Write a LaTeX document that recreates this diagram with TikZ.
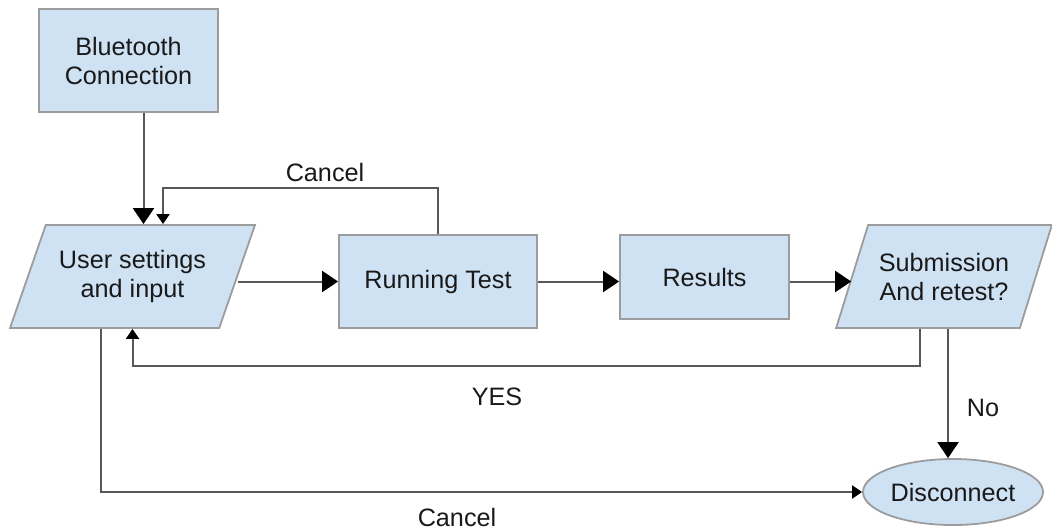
\documentclass[tikz,border=0pt]{standalone}
\usepackage{fontspec}
\setmainfont{Liberation Sans}
\usepackage{xcolor}
\usetikzlibrary{shapes.geometric,arrows.meta,positioning,calc}

\definecolor{boxfill}{HTML}{CFE2F3}
\definecolor{boxline}{HTML}{9C9C9C}
\definecolor{wire}{HTML}{585858}

\begin{document}
\begin{tikzpicture}[
    x=0.5pt, y=-0.5pt,
    font=\fontsize{12.6}{14.5}\selectfont,
    procbox/.style={rectangle, draw=boxline, fill=boxfill, line width=0.9pt, text=black!90, align=center, inner sep=0pt},
    iobox/.style={trapezium, trapezium left angle=60, trapezium right angle=120, trapezium stretches=true, draw=boxline, fill=boxfill, line width=0.9pt, text=black!90, align=center, inner sep=0pt},
    endnode/.style={ellipse, draw=boxline, fill=boxfill, line width=0.9pt, text=black!90, inner sep=0pt},
    arrow/.style={-{Triangle[length=8pt,width=10.5pt,black]}, draw=wire, line width=1pt},
    smallarrow/.style={-{Triangle[length=5pt,width=6.5pt,black]}, draw=wire, line width=1pt},
    lbl/.style={text=black!90, inner sep=0pt}
]
    \useasboundingbox (0,0) rectangle (1052,531);

    \node (bt) [procbox, minimum width=89.5pt, minimum height=51.5pt] at (128.5,60.5) {Bluetooth\\Connection};
    \node (user) [iobox, minimum width=122.5pt, minimum height=51.5pt] at (132.5,276.5) {User settings\\and input};
    \node (rt) [procbox, minimum width=99pt, minimum height=46.5pt] at (438,281.5) {Running Test};
    \node (res) [procbox, minimum width=84.5pt, minimum height=42pt] at (704.5,277) {Results};
    \node (sub) [iobox, minimum width=108pt, minimum height=51.5pt] at (944,276.5) {Submission\\And retest?};
    \node (dis) [endnode, minimum width=90pt, minimum height=33pt] at (953,492) {Disconnect};

    \coordinate (cup) at (163,188);
    \coordinate (ydown) at (920,366);

    \draw [arrow] ([xshift=7.5pt]bt.south) -- ([xshift=7.5pt]bt.south |- user.north);
    \draw [smallarrow] (rt.north) |- (cup) -- (cup |- user.north);
    \draw [arrow] (user.east |- rt.west) -- (rt.west);
    \draw [arrow] (rt.east) -- (res.west |- rt.east);
    \draw [arrow] (res.east |- rt.east) -- (sub.west |- rt.east);
    \draw [smallarrow] (ydown |- sub.south) -- (ydown) -| (user.south);
    \draw [arrow] ([xshift=2pt]sub.south) -- ([xshift=2pt]sub.south |- dis.north);
    \draw [smallarrow] ([xshift=-15.75pt]user.south) |- (dis.west);

    \node (lcanceltop) [lbl] at (325,172) {Cancel};
    \node (lyes) [lbl] at (497,397) {YES};
    \node (lno) [lbl] at (983,408) {No};
    \node (lcancelbot) [lbl] at (457,517) {Cancel};
\end{tikzpicture}
\end{document}
